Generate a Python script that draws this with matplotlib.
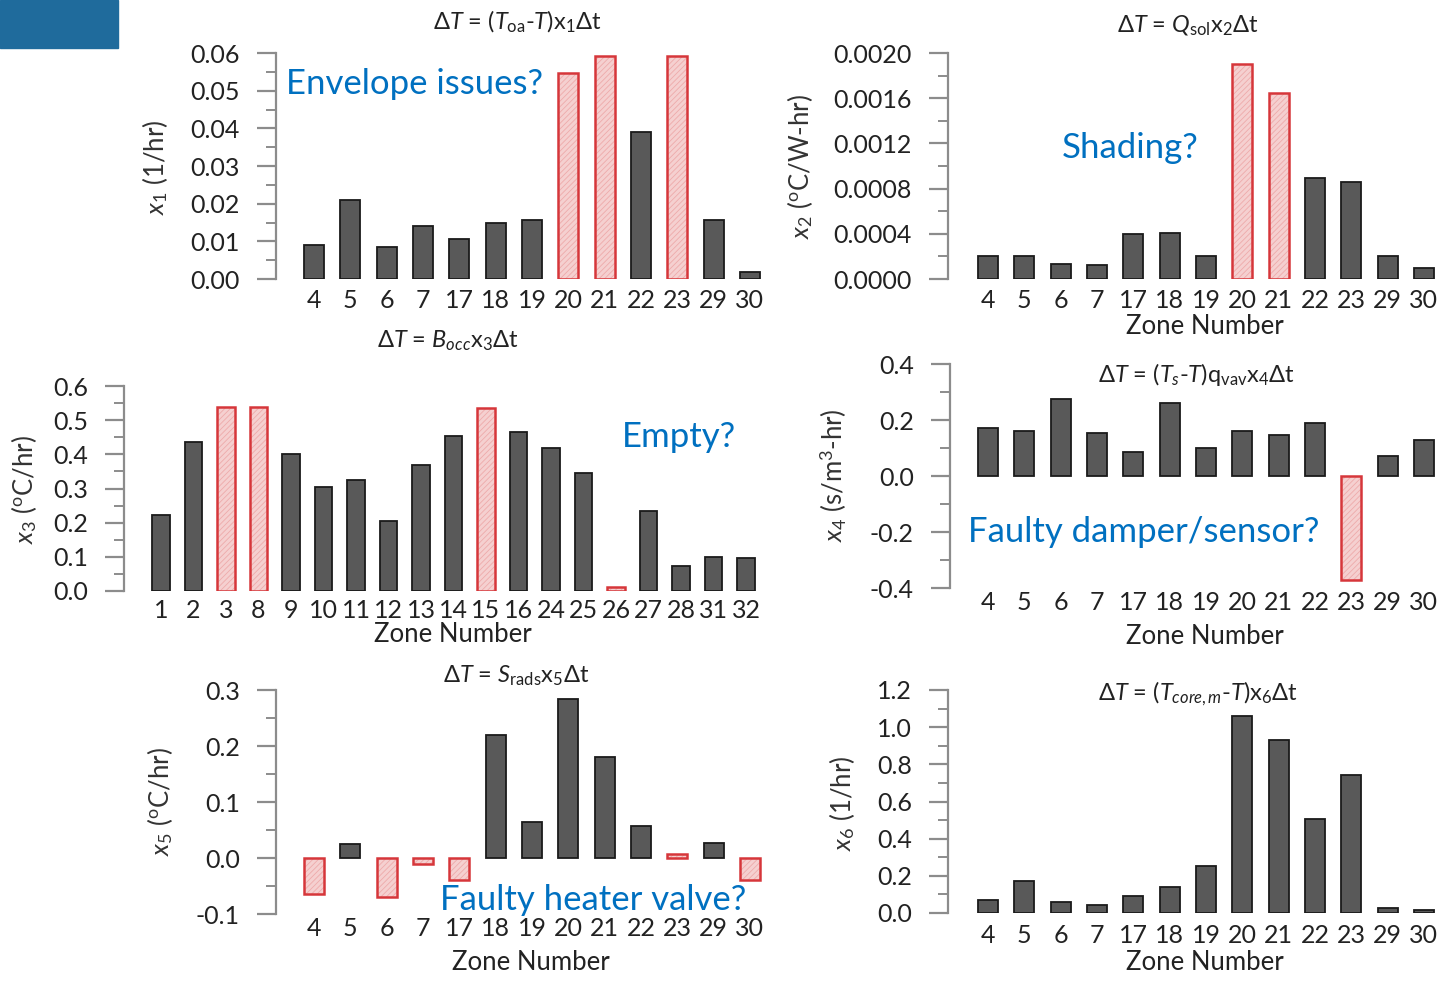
import numpy as np
import matplotlib
matplotlib.use('Agg')
import matplotlib.pyplot as plt
from matplotlib.patches import Rectangle
from matplotlib.ticker import MultipleLocator, FormatStrFormatter

# Datos
zonas_a = ['4', '5', '6', '7', '17', '18', '19', '20', '21', '22', '23', '29', '30']
zonas_b = ['1', '2', '3', '8', '9', '10', '11', '12', '13', '14', '15', '16',
           '24', '25', '26', '27', '28', '31', '32']

x1_vals = [0.009, 0.021, 0.0085, 0.014, 0.0105, 0.015, 0.0157, 0.0547, 0.0593,
           0.039, 0.0593, 0.0157, 0.0018]
x1_marcadas = ['20', '21', '23']

x2_vals = [0.0002, 0.0002, 0.00013, 0.00012, 0.0004, 0.00041, 0.0002, 0.0019,
           0.00165, 0.00089, 0.00086, 0.0002, 0.0001]
x2_marcadas = ['20', '21']

x3_vals = [0.222, 0.435, 0.54, 0.54, 0.40, 0.305, 0.325, 0.205, 0.37, 0.455,
           0.537, 0.465, 0.42, 0.345, 0.012, 0.235, 0.072, 0.10, 0.098]
x3_marcadas = ['3', '8', '15', '26']

x4_vals = [0.17, 0.16, 0.275, 0.155, 0.085, 0.26, 0.10, 0.16, 0.145, 0.19,
           -0.37, 0.07, 0.13]
x4_marcadas = ['23']

x5_vals = [-0.065, 0.025, -0.07, -0.01, -0.04, 0.22, 0.065, 0.284, 0.18, 0.057,
           0.008, 0.027, -0.04]
x5_marcadas = ['4', '6', '7', '17', '23', '30']

x6_vals = [0.07, 0.17, 0.06, 0.045, 0.09, 0.14, 0.255, 1.06, 0.93, 0.505, 0.74,
           0.025, 0.015]
x6_marcadas = []

W, H = 1441, 981
GRIS_EJE = '#8c8c8c'
TEXTO = '#222222'
AZUL = '#0070c0'
T_TICK = 18
T_ETIQ = 18.5
T_TITULO = 17
T_NOTA = 25

plt.rcParams['font.family'] = ['Lato', 'DejaVu Sans']
plt.rcParams['mathtext.fontset'] = 'custom'
plt.rcParams['mathtext.rm'] = 'Lato'
plt.rcParams['mathtext.it'] = 'Lato:italic'
plt.rcParams['mathtext.bf'] = 'Lato:bold'
plt.rcParams['axes.unicode_minus'] = False
plt.rcParams['hatch.linewidth'] = 0.6

fig = plt.figure(figsize=(W / 100, H / 100), dpi=100)


def fx(px):
    return px / W


def fy(py):
    return 1 - py / H


def texto(px, py, s, **kw):
    fig.text(fx(px), fy(py), s, **kw)


def panel(caja, zonas, vals, marcadas, ylim, mayor, menor, fmt, pad_x):
    """Dibuja un panel de barras; caja = (eje_x, arriba, abajo, primera, paso, derecha) en pixeles."""
    eje_x, arriba, abajo, primera, paso, derecha = caja
    ax = fig.add_axes([fx(eje_x), fy(abajo), (derecha - eje_x) / W, (abajo - arriba) / H])
    pos = np.arange(len(zonas))
    vals = np.array(vals)
    marca = np.array([z in marcadas for z in zonas])

    ax.bar(pos[~marca], vals[~marca], 0.55, color='#595959', edgecolor='#1a1a1a', lw=1.3)
    if marca.any():
        ax.bar(pos[marca], vals[marca], 0.55, color='#f5d0d0', edgecolor='#eeaaaa',
               lw=0, hatch='//////')
        ax.bar(pos[marca], vals[marca], 0.55, fill=False, edgecolor='#d6363a', lw=1.8)

    ax.set_xlim((eje_x - primera) / paso, (derecha - primera) / paso)
    ax.set_ylim(ylim)
    for lado in ['top', 'right', 'bottom']:
        ax.spines[lado].set_visible(False)
    ax.spines['left'].set_color(GRIS_EJE)
    ax.spines['left'].set_linewidth(1.6)

    ax.yaxis.set_major_locator(MultipleLocator(mayor))
    ax.yaxis.set_minor_locator(MultipleLocator(menor))
    ax.yaxis.set_major_formatter(FormatStrFormatter(fmt))
    ax.tick_params(axis='y', which='major', length=14, width=1.6, color=GRIS_EJE,
                   pad=12, labelsize=T_TICK, labelcolor=TEXTO)
    ax.tick_params(axis='y', which='minor', length=7, width=1.4, color=GRIS_EJE)
    ax.set_xticks(pos, zonas)
    ax.tick_params(axis='x', length=0, pad=pad_x, labelsize=T_TICK, labelcolor=TEXTO)
    ax.patch.set_alpha(0)
    return ax


def ylabel(px, py, s):
    texto(px, py, s, fontsize=T_ETIQ, rotation=90, ha='center', va='center', color='#333333')


def xlabel(px, py):
    texto(px, py, 'Zone Number', fontsize=T_ETIQ, ha='center', va='center', color=TEXTO)


def titulo(px, py, s):
    texto(px, py, s, fontsize=T_TITULO, ha='center', va='center', color=TEXTO)


def nota(px, py, s):
    texto(px, py, s, fontsize=T_NOTA, color=AZUL, ha='left', va='center')


# Panel x1
panel((276, 53, 279, 314, 36.33, 770), zonas_a, x1_vals, x1_marcadas,
      (0, 0.06), 0.01, 0.005, '%.2f', 7)
titulo(517, 22, r'$\Delta T$ = ($T_{\rm oa}$-$T$)x$_1\Delta$t')
ylabel(155, 167, r'$x_1$ (1/hr)')
nota(286, 84, 'Envelope issues?')

# Panel x2
panel((948, 53, 279, 988, 36.33, 1436), zonas_a, x2_vals, x2_marcadas,
      (0, 0.002), 0.0004, 0.0002, '%.4f', 7)
titulo(1188, 26, r'$\Delta T$ = $Q_{\rm sol}$x$_2\Delta$t')
ylabel(800, 167, r'$x_2$ ($^{\rm o}$C/W-hr)')
xlabel(1205, 326)
nota(1062, 148, 'Shading?')

# Panel x3
panel((124, 386, 591, 161, 32.5, 762), zonas_b, x3_vals, x3_marcadas,
      (0, 0.6), 0.1, 0.05, '%.1f', 6)
titulo(448, 341, r'$\Delta T$ = $B_{occ}$x$_3\Delta$t')
ylabel(24, 490, r'$x_3$ ($^{\rm o}$C/hr)')
xlabel(453, 634)
nota(622, 437, 'Empty?')

# Panel x4
panel((950, 364, 588, 988, 36.33, 1436), zonas_a, x4_vals, x4_marcadas,
      (-0.4, 0.4), 0.2, 0.1, '%.1f', 2)
titulo(1196, 375, r'$\Delta T$ = ($T_s$-$T$)q$_{\rm vav}$x$_4\Delta$t')
ylabel(833, 475, r'$x_4$ (s/m$^3$-hr)')
xlabel(1205, 637)
nota(968, 532, 'Faulty damper/sensor?')

# Panel x5
panel((276, 690, 914, 314, 36.33, 770), zonas_a, x5_vals, x5_marcadas,
      (-0.1, 0.3), 0.1, 0.05, '%.1f', 2)
titulo(516, 676, r'$\Delta T$ = $S_{\rm rads}$x$_5\Delta$t')
ylabel(160, 802, r'$x_5$ ($^{\rm o}$C/hr)')
xlabel(531, 962)
nota(440, 900, 'Faulty heater valve?')

# Panel x6
panel((948, 690, 913, 988, 36.33, 1436), zonas_a, x6_vals, x6_marcadas,
      (0, 1.2), 0.2, 0.1, '%.1f', 8)
titulo(1198, 694, r'$\Delta T$ = ($T_{core,m}$-$T$)x$_6\Delta$t')
ylabel(842, 803, r'$x_6$ (1/hr)')
xlabel(1205, 963)

# Rectangulo azul de la esquina superior izquierda
fig.patches.append(Rectangle((0, fy(48)), fx(118), 48 / H, transform=fig.transFigure,
                             color='#1f6b9c', zorder=0))

fig.savefig('out.png', dpi=100)
